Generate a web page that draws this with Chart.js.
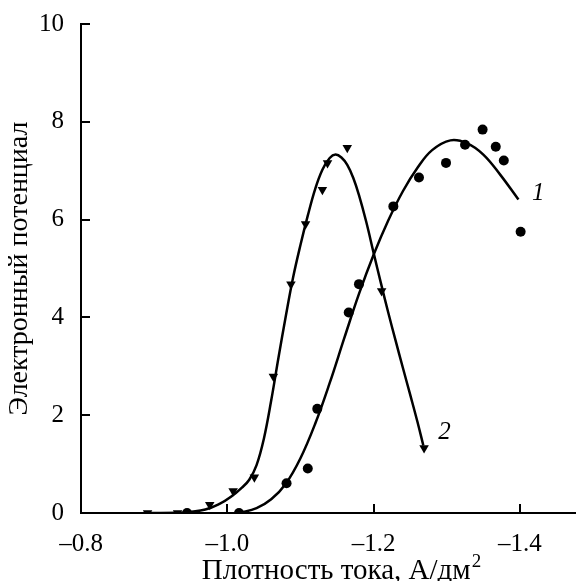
<!DOCTYPE html>
<html>
<head>
<meta charset="utf-8">
<script src="https://cdn.jsdelivr.net/npm/chart.js@4"></script>
<style>
  html, body { margin: 0; padding: 0; background: #fff; }
  #wrap { width: 581px; height: 581px; }
</style>
</head>
<body>
<div id="wrap"><canvas id="chart"></canvas></div>
<script>
// измеренные точки, кривая 1 (кружки)
var circX = [-0.945, -1.016, -1.081, -1.110, -1.123, -1.166, -1.180, -1.227, -1.262, -1.299, -1.325, -1.349, -1.367, -1.378, -1.401];
var circY = [0, 0, 0.61, 0.91, 2.13, 4.10, 4.68, 6.27, 6.86, 7.16, 7.53, 7.84, 7.49, 7.21, 5.75];

// измеренные точки, кривая 2 (треугольники)
var triX = [-0.891, -0.932, -0.976, -1.008, -1.037, -1.063, -1.087, -1.107, -1.130, -1.137, -1.164, -1.211, -1.269];
var triY = [0, 0, 0.17, 0.45, 0.73, 2.79, 4.68, 5.91, 6.61, 7.16, 7.47, 4.54, 1.33];

// сглаженные кривые
var fit1X = [-1.016, -1.040, -1.060, -1.080, -1.100, -1.120, -1.140, -1.160, -1.180, -1.200, -1.220, -1.240, -1.260, -1.280, -1.305, -1.328, -1.350, -1.373, -1.398];
var fit1Y = [0, 0.10, 0.28, 0.60, 1.12, 1.82, 2.66, 3.58, 4.48, 5.28, 5.98, 6.58, 7.06, 7.42, 7.62, 7.56, 7.33, 6.92, 6.41];
var fit2X = [-0.891, -0.940, -0.970, -0.990, -1.005, -1.020, -1.030, -1.040, -1.050, -1.060, -1.070, -1.080, -1.090, -1.100, -1.110, -1.120, -1.130, -1.140, -1.148, -1.156, -1.164, -1.172, -1.180, -1.190, -1.200, -1.210, -1.220, -1.230, -1.240, -1.250, -1.260, -1.268];
var fit2Y = [0, 0.01, 0.07, 0.19, 0.33, 0.52, 0.68, 0.98, 1.52, 2.30, 3.18, 4.03, 4.82, 5.48, 6.08, 6.62, 7.02, 7.26, 7.33, 7.27, 7.12, 6.86, 6.50, 5.95, 5.32, 4.70, 4.10, 3.53, 2.97, 2.42, 1.86, 1.38];

var xTicks = [-0.8, -1.0, -1.2, -1.4];
var yTicks = [0, 2, 4, 6, 8, 10];

// подписи кривых
var curveNames = ['1', '2'];
var nameX = [-1.425, -1.297];
var nameY = [6.54, 1.65];

function pts(xs, ys) {
    return xs.map(function(x, i) { return { x: x, y: ys[i] }; });
}

var serif = '"Liberation Serif", "DejaVu Serif", serif';

// засечки внутрь, подпись оси X с верхним индексом, подписи 1, 2
var innerTicks = {
    id: 'innerTicks',
    afterDraw: function(chart) {
        var c = chart.ctx;
        var xs = chart.scales.x, ys = chart.scales.y;
        var area = chart.chartArea;
        c.save();
        c.strokeStyle = '#000';
        c.lineWidth = 2;
        c.beginPath();
        xTicks.forEach(function(v) {
            var px = Math.round(xs.getPixelForValue(v));
            c.moveTo(px, area.bottom);
            c.lineTo(px, area.bottom - 9);
        });
        yTicks.forEach(function(v) {
            var py = Math.round(ys.getPixelForValue(v));
            c.moveTo(area.left, py);
            c.lineTo(area.left + 9, py);
        });
        c.stroke();
        c.fillStyle = '#000';

        // подпись оси X
        var main = 'Плотность тока, А/дм';
        c.font = '29px ' + serif;
        var w1 = c.measureText(main).width;
        c.font = '19px ' + serif;
        var w2 = c.measureText('2').width;
        var x0 = 341 - (w1 + w2) / 2;
        c.textAlign = 'left';
        c.textBaseline = 'alphabetic';
        c.font = '29px ' + serif;
        c.fillText(main, x0, 579);
        c.font = '19px ' + serif;
        c.fillText('2', x0 + w1 + 1, 567);

        c.font = 'italic 25px ' + serif;
        c.textAlign = 'center';
        c.textBaseline = 'middle';
        curveNames.forEach(function(t, i) {
            c.fillText(t, xs.getPixelForValue(nameX[i]), ys.getPixelForValue(nameY[i]));
        });
        c.restore();
    }
};

var ctx = document.getElementById('chart').getContext('2d');
var chart = new Chart(ctx, {
    type: 'scatter',
    data: {
        datasets: [
            {
                data: pts(fit1X, fit1Y),
                showLine: true,
                borderColor: '#000',
                borderWidth: 2.5,
                pointRadius: 0,
                tension: 0.4
            },
            {
                data: pts(fit2X, fit2Y),
                showLine: true,
                borderColor: '#000',
                borderWidth: 2.5,
                pointRadius: 0,
                tension: 0.4
            },
            {
                data: pts(circX, circY),
                pointStyle: 'circle',
                pointRadius: 5,
                backgroundColor: '#000',
                borderColor: '#000',
                borderWidth: 0
            },
            {
                data: pts(triX, triY),
                pointStyle: 'triangle',
                pointRotation: 180,
                pointRadius: 5.5,
                backgroundColor: '#000',
                borderColor: '#000',
                borderWidth: 0
            }
        ]
    },
    options: {
        responsive: true,
        maintainAspectRatio: false,
        animation: false,
        layout: { padding: { top: 10, right: 0, left: 0, bottom: 0 } },
        plugins: {
            legend: { display: false },
            tooltip: { enabled: false }
        },
        scales: {
            x: {
                type: 'linear',
                reverse: true,
                min: -1.476,
                max: -0.8,
                afterBuildTicks: function(s) {
                    s.ticks = xTicks.map(function(v) { return { value: v }; });
                },
                afterFit: function(s) { s.height = 68; },
                grid: { display: false },
                border: { display: true, color: '#000', width: 2 },
                ticks: {
                    color: '#000',
                    padding: 8,
                    maxRotation: 0,
                    font: { family: serif, size: 25 },
                    callback: function(v) { return '\u2013' + Math.abs(v).toFixed(1); }
                },
                title: { display: false }
            },
            y: {
                type: 'linear',
                min: 0,
                max: 10,
                afterBuildTicks: function(s) {
                    s.ticks = yTicks.map(function(v) { return { value: v }; });
                },
                afterFit: function(s) { s.width = 81; },
                grid: { display: false },
                border: { display: true, color: '#000', width: 2 },
                ticks: {
                    color: '#000',
                    padding: 9,
                    font: { family: serif, size: 25 }
                },
                title: {
                    display: true,
                    text: 'Электронный потенциал',
                    color: '#000',
                    padding: { top: 3, bottom: 0 },
                    font: { family: serif, size: 28 }
                }
            }
        }
    },
    plugins: [innerTicks]
});
</script>
</body>
</html>
